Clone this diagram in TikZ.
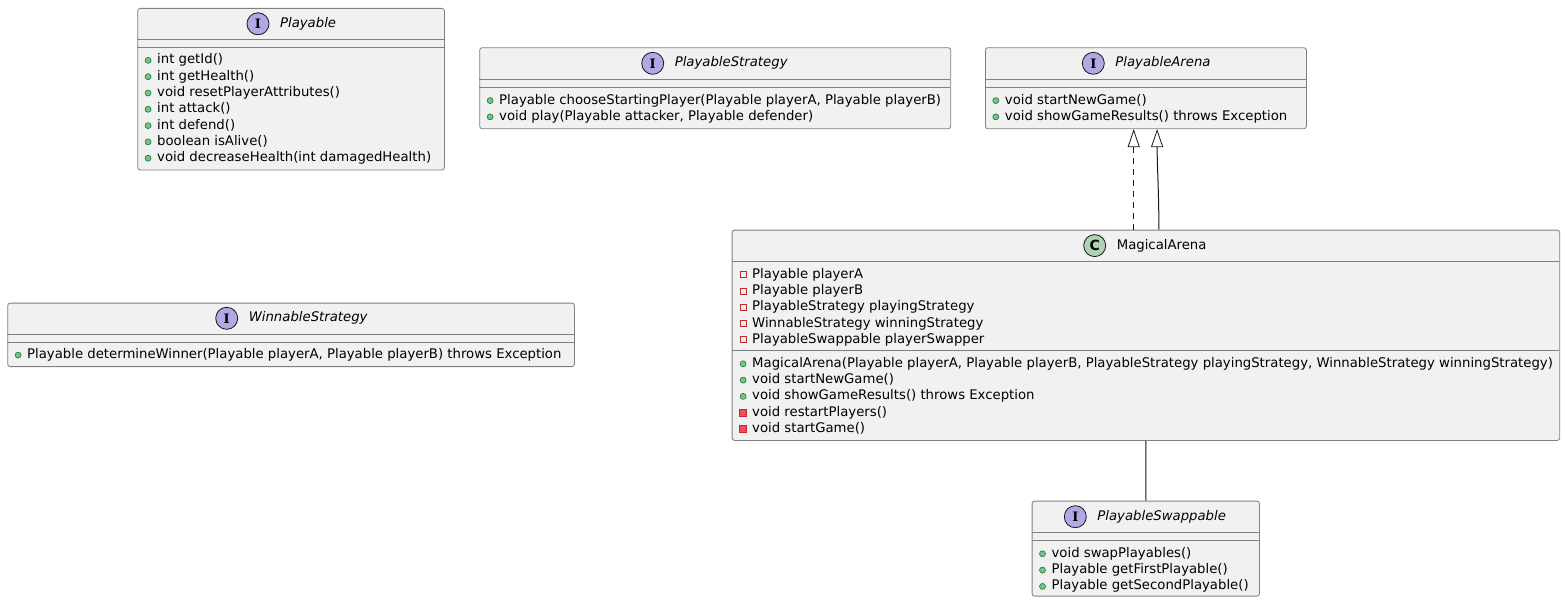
\documentclass[tikz,border=0pt]{standalone}
\usepackage{fontspec}
\setmainfont{DejaVu Sans}
\newfontfamily\iconserif{DejaVu Serif}
\usepackage{tikz}
\usetikzlibrary{positioning}
\usetikzlibrary{arrows.meta}
\usepackage{xcolor}

\definecolor{boxfill}{HTML}{F1F1F1}
\definecolor{boxline}{HTML}{808080}
\definecolor{linkline}{HTML}{181818}
\definecolor{ifill}{HTML}{B4A7E5}
\definecolor{cfill}{HTML}{ADD1B2}
\definecolor{pubfill}{HTML}{84BE84}
\definecolor{publine}{HTML}{038048}
\definecolor{privfill}{HTML}{F24D5C}
\definecolor{privline}{HTML}{C82930}

\tikzset{
  umlbox/.style={draw=boxline, fill=boxfill, line width=0.8pt, rounded corners=2.5pt,
    anchor=north west, inner sep=0pt},
  sepline/.style={draw=boxline, line width=0.8pt},
  iicon/.style={circle, draw=linkline, fill=ifill, line width=0.8pt, minimum size=22pt,
    inner sep=0pt, font=\iconserif\bfseries\fontsize{13}{13}\selectfont},
  cicon/.style={iicon, fill=cfill, font=\bfseries\fontsize{14}{14}\selectfont},
  ititle/.style={inner sep=0pt, font=\itshape\fontsize{13.25}{16}\selectfont},
  ctitle/.style={inner sep=0pt, font=\fontsize{13.25}{16}\selectfont},
  member/.style={inner sep=0pt, anchor=base west, text height=9.5pt, text depth=2.5pt,
    font=\fontsize{13.25}{16}\selectfont},
  pubdot/.style={circle, draw=publine, fill=pubfill, line width=0.6pt, minimum size=6pt,
    inner sep=0pt, xshift=-5.6pt},
  privbox/.style={rectangle, draw=privline, fill=boxfill, line width=0.8pt, minimum size=6pt,
    inner sep=0pt, xshift=-5.6pt},
  privdot/.style={rectangle, draw=privline, fill=privfill, line width=0.6pt, minimum size=7pt,
    inner sep=0pt, xshift=-5.1pt},
  pub/.style={member, label={[pubdot]left:{}}},
  privf/.style={member, label={[privbox]left:{}}},
  privm/.style={member, label={[privdot]left:{}}},
  link/.style={draw=linkline, line width=1pt},
  inherit/.style={link, -{Triangle[fill=white, length=18pt, width=12pt, line width=0.8pt]}},
}

\begin{document}
\begin{tikzpicture}[x=1pt, y=-1pt]
  \path[use as bounding box, fill=white] (0,0) rectangle (1565,602);

  % Playable
  \node[umlbox, minimum width=306.7pt, minimum height=161.5pt] (playable) at (137.3,8) {};
  \foreach \y in {39.7,47.3} \draw[sepline] (137.3,\y) -- (444,\y);
  \node[iicon] (playable-i) at (258,23.8) {I};
  \node[ititle, right=10.5pt of playable-i] (playable-t) {Playable};
  \foreach \m [count=\i] in {int getId(), int getHealth(), void resetPlayerAttributes(),
      int attack(), int defend(), boolean isAlive(), void decreaseHealth(int damagedHealth)}
    \node[pub] (playable-m\i) at (157, 47.6+16.3*\i) {\m};

  % PlayableStrategy
  \node[umlbox, minimum width=471pt, minimum height=81pt] (pstrat) at (479.3,47.3) {};
  \foreach \y in {79.3,87.5} \draw[sepline] (479.3,\y) -- (950.3,\y);
  \node[iicon] (pstrat-i) at (652.7,63.3) {I};
  \node[ititle, right=10.5pt of pstrat-i] (pstrat-t) {PlayableStrategy};
  \foreach \m [count=\i] in {{Playable chooseStartingPlayer(Playable playerA, Playable playerB)},
      {void play(Playable attacker, Playable defender)}}
    \node[pub] (pstrat-m\i) at (499, 87.8+16.3*\i) {\m};

  % PlayableArena
  \node[umlbox, minimum width=321pt, minimum height=81pt] (parena) at (985,47.3) {};
  \foreach \y in {79.3,87.5} \draw[sepline] (985,\y) -- (1306,\y);
  \node[iicon] (parena-i) at (1093.3,63.3) {I};
  \node[ititle, right=10.5pt of parena-i] (parena-t) {PlayableArena};
  \foreach \m [count=\i] in {void startNewGame(), void showGameResults() throws Exception}
    \node[pub] (parena-m\i) at (1004.7, 87.8+16.3*\i) {\m};

  % WinnableStrategy
  \node[umlbox, minimum width=566.7pt, minimum height=63.5pt] (winnable) at (7.3,302.7) {};
  \foreach \y in {334,342} \draw[sepline] (7.3,\y) -- (574,\y);
  \node[iicon] (winnable-i) at (226.7,318.3) {I};
  \node[ititle, right=10.5pt of winnable-i] (winnable-t) {WinnableStrategy};
  \node[pub] (winnable-m1) at (27,358.6)
    {Playable determineWinner(Playable playerA, Playable playerB) throws Exception};

  % MagicalArena
  \node[umlbox, minimum width=827.6pt, minimum height=210.3pt] (magical) at (731.7,229.7) {};
  \foreach \y in {261.5,350.7} \draw[sepline] (731.7,\y) -- (1559.3,\y);
  \node[cicon] (magical-i) at (1094.7,245.6) {C};
  \node[ctitle, right=10.5pt of magical-i] (magical-t) {MagicalArena};
  \foreach \m [count=\i] in {Playable playerA, Playable playerB, PlayableStrategy playingStrategy,
      WinnableStrategy winningStrategy, PlayableSwappable playerSwapper}
    \node[privf] (magical-a\i) at (752, 261.8+16.3*\i) {\m};
  \foreach \m [count=\i] in {{MagicalArena(Playable playerA, Playable playerB, PlayableStrategy playingStrategy, WinnableStrategy winningStrategy)},
      void startNewGame(), void showGameResults() throws Exception}
    \node[pub] (magical-m\i) at (752, 351+16.3*\i) {\m};
  \foreach \m [count=\i from 4] in {void restartPlayers(), void startGame()}
    \node[privm] (magical-m\i) at (752, 351+16.3*\i) {\m};

  % PlayableSwappable
  \node[umlbox, minimum width=227.3pt, minimum height=95pt] (pswap) at (1031.7,500.7) {};
  \foreach \y in {532.7,540.7} \draw[sepline] (1031.7,\y) -- (1259,\y);
  \node[iicon] (pswap-i) at (1075.3,516.7) {I};
  \node[ititle, right=10.5pt of pswap-i] (pswap-t) {PlayableSwappable};
  \foreach \m [count=\i] in {void swapPlayables(), Playable getFirstPlayable(), Playable getSecondPlayable()}
    \node[pub] (pswap-m\i) at (1051.4, 541+16.3*\i) {\m};

  % Relations
  \draw[inherit, dash pattern=on 6pt off 5pt] ([xshift=-12.2pt]magical.north) -- ([xshift=-12.2pt]parena.south);
  \draw[inherit] ([xshift=13pt]magical.north) .. controls +(0,-35) and +(0,35) .. ([xshift=11.2pt]parena.south);
  \draw[link] (magical.south) -- (pswap.north);
\end{tikzpicture}
\end{document}
